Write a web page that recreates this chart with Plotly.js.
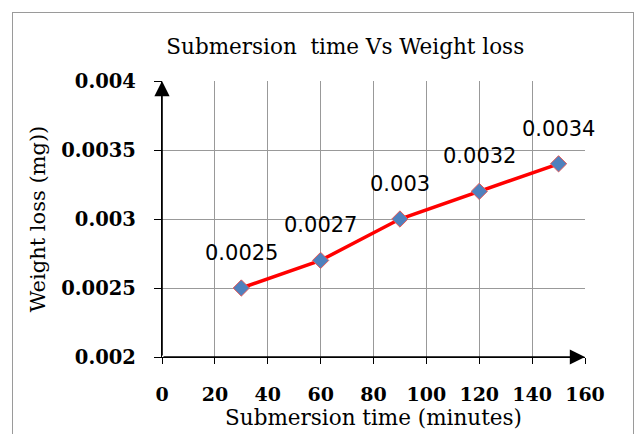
<!DOCTYPE html>
<html>
<head>
<meta charset="utf-8">
<script src="https://cdn.plot.ly/plotly-3.0.1.min.js"></script>
<style>
  html, body { margin: 0; padding: 0; background: #fff; overflow: hidden; }
  #frame {
    position: absolute; left: 12px; top: 12px; width: 622px; height: 440px;
    border: 1px solid #9a9a9a; box-sizing: border-box;
  }
  #chart { position: absolute; left: 0; top: 0; width: 637px; height: 434px; }
</style>
</head>
<body>
<div id="frame"></div>
<div id="chart"></div>
<script>
// Submersion time (minutes) and measured weight loss (mg)
const submersionTime = [30, 60, 90, 120, 150];
const weightLoss = [0.0025, 0.0027, 0.003, 0.0032, 0.0034];
const weightLossLabels = ['0.0025', '0.0027', '0.003', '0.0032', '0.0034'];

const xTickVals = [0, 20, 40, 60, 80, 100, 120, 140, 160];
const yTickVals = [0.002, 0.0025, 0.003, 0.0035, 0.004];
const yTickText = ['0.002', '0.0025', '0.003', '0.0035', '0.004'];

const serif = 'DejaVu Serif, serif';

const trace = {
  x: submersionTime,
  y: weightLoss,
  type: 'scatter',
  mode: 'lines+markers',
  line: { color: '#ff0000', width: 3.5 },
  marker: { symbol: 'diamond', size: 12.5, color: '#4f81bd', line: { color: '#e45a5a', width: 1 } },
  hoverinfo: 'skip',
  cliponaxis: false
};

// value labels above each point
const valueLabels = submersionTime.map((t, i) => ({
  x: t, y: weightLoss[i], xref: 'x', yref: 'y',
  text: weightLossLabels[i], showarrow: false, yshift: 35,
  font: { family: 'DejaVu Sans, sans-serif', size: 21, color: '#000' }
}));

// arrowheads on the axis lines
const axisArrows = [
  { x: 0, y: 0.004, ax: 0, ay: 0.002, xref: 'x', yref: 'y', axref: 'x', ayref: 'y',
    showarrow: true, arrowhead: 2, arrowsize: 1.9, arrowwidth: 1.6, arrowcolor: '#000',
    standoff: 0, startstandoff: 0, text: '' },
  { x: 160, y: 0.002, ax: 0, ay: 0.002, xref: 'x', yref: 'y', axref: 'x', ayref: 'y',
    showarrow: true, arrowhead: 2, arrowsize: 1.9, arrowwidth: 1.6, arrowcolor: '#000',
    standoff: 0, startstandoff: 0, text: '' }
];

const layout = {
  width: 637, height: 434,
  margin: { l: 162, r: 52, t: 81, b: 77 },
  paper_bgcolor: 'rgba(0,0,0,0)',
  plot_bgcolor: 'rgba(0,0,0,0)',
  showlegend: false,
  title: {
    text: 'Submersion\u00a0\u00a0time Vs Weight loss',
    font: { family: serif, size: 21.5, color: '#000' },
    xref: 'container', yref: 'container', x: 0.542, y: 0.892,
    xanchor: 'center', yanchor: 'middle'
  },
  xaxis: {
    range: [0, 160], tickvals: xTickVals, ticktext: xTickVals.map(String),
    showgrid: true, gridcolor: '#999999', gridwidth: 1,
    zeroline: false, showline: true, linecolor: '#000', linewidth: 1.2,
    ticks: 'outside', ticklen: 6, tickcolor: '#000',
    ticklabelstandoff: 14,
    tickfont: { family: serif, size: 19, color: '#000', weight: 'bold' },
    title: { text: 'Submersion time (minutes)', standoff: 4,
      font: { family: serif, size: 21.5, color: '#000' } }
  },
  yaxis: {
    range: [0.002, 0.004], tickvals: yTickVals, ticktext: yTickText,
    showgrid: true, gridcolor: '#999999', gridwidth: 1,
    zeroline: false, showline: true, linecolor: '#000', linewidth: 1.2,
    ticks: 'outside', ticklen: 7, tickcolor: '#000',
    ticklabelstandoff: 14,
    tickfont: { family: serif, size: 19.5, color: '#000', weight: 'bold' },
    title: { text: 'Weight loss (mg))', standoff: 10,
      font: { family: serif, size: 21, color: '#000' } }
  },
  annotations: valueLabels.concat(axisArrows)
};

Plotly.newPlot('chart', [trace], layout, { displayModeBar: false, staticPlot: true });
</script>
</body>
</html>
